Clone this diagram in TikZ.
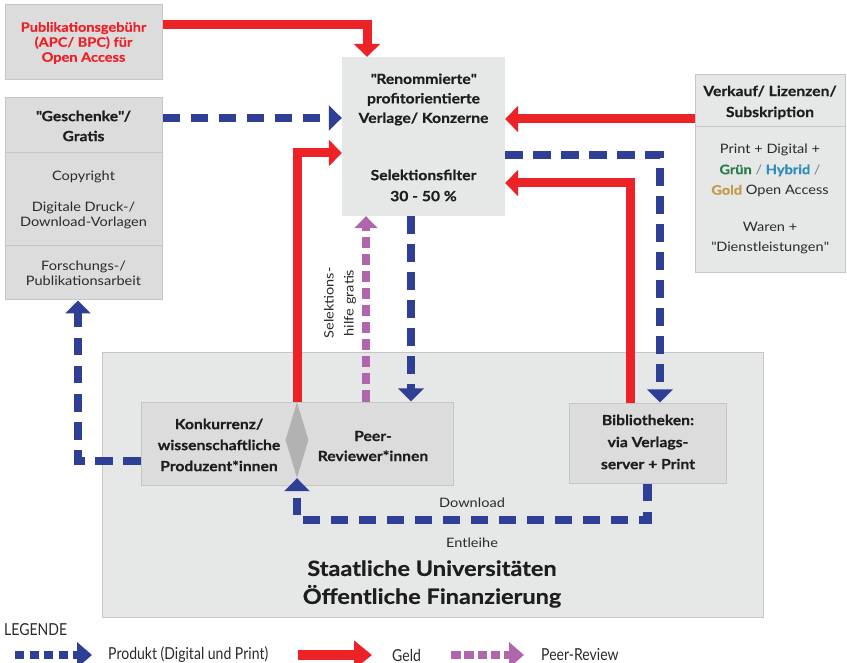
\documentclass[tikz,border=0pt]{standalone}
\usepackage{fontspec}
\setmainfont{Lato}[FakeStretch=1.12, BoldFeatures={FakeBold=0.5}]
\newfontfamily\narrowfont{Lato}[FakeStretch=0.85]
\usetikzlibrary{arrows.meta,shapes.geometric}

\definecolor{geldred}{HTML}{EC2227}
\definecolor{prodblue}{HTML}{2F3F96}
\definecolor{peerpurple}{HTML}{B165AC}
\definecolor{boxgray}{HTML}{DCDCDC}
\definecolor{palegray}{HTML}{E6E7E7}
\definecolor{edgegray}{HTML}{C6C6C6}
\definecolor{diagray}{HTML}{B2B2B2}
\definecolor{txt}{HTML}{1E1E1E}
\definecolor{bodytxt}{HTML}{2A2A2A}
\definecolor{gruen}{HTML}{2E7A4E}
\definecolor{hybrid}{HTML}{2F8DB8}
\definecolor{gold}{HTML}{C39A45}

\newcommand{\qq}{\textquotedbl}

\tikzset{
  box/.style={draw=edgegray, line width=1pt, fill=boxgray, inner sep=0pt},
  label/.style={text=txt, align=center, inner sep=0pt},
  head/.style={label, font=\bfseries\fontsize{14}{19.5}\selectfont},
  body/.style={label, text=bodytxt, font=\fontsize{13}{15}\selectfont},
  small/.style={label, text=bodytxt, font=\fontsize{13}{20}\selectfont},
  legtext/.style={label, text=bodytxt, anchor=west, font=\narrowfont\fontsize{16.5}{18}\selectfont},
  geld/.style={draw=geldred, line width=9pt,
    -{Triangle[width=26pt,length=13pt]}},
  prod/.style={draw=prodblue, line width=8.5pt, dash pattern=on 17.5pt off 10.5pt,
    -{Triangle[width=25pt,length=13pt]}},
  peer/.style={draw=peerpurple, line width=7.5pt, dash pattern=on 11pt off 6pt,
    -{Triangle[width=23pt,length=12pt]}},
}

\begin{document}
\begin{tikzpicture}[x=1pt,y=-1pt]
\useasboundingbox (0,0) rectangle (847,663);
\fill[white] (0,0) rectangle (847,663);

% universities (background block)
\node[box, fill=palegray, minimum width=661pt, minimum height=264pt] (uni) at (432.5,485) {};
\node[label, font=\bfseries\fontsize{21}{28}\selectfont] (unitext) at (432,584)
  {Staatliche Universitäten\\Öffentliche Finanzierung};

% producers / peer reviewers
\node[box, minimum width=312pt, minimum height=83pt] (konk) at (297,443.5) {};
\node[diamond, fill=diagray, inner sep=0pt, minimum width=23pt, minimum height=76pt] (split) at (297,440) {};
\node[head, font=\bfseries\fontsize{14}{21}\selectfont] (konktext) at (219,445)
  {Konkurrenz/\\wissenschaftliche\\Produzent*innen};
\node[head, font=\bfseries\fontsize{14}{20}\selectfont] (peertext) at (373,446)
  {Peer-\\Reviewer*innen};

% libraries
\node[box, minimum width=157pt, minimum height=80pt] (bib) at (647.5,443) {};
\node[head, font=\bfseries\fontsize{14}{22}\selectfont] (bibtext) at (648,442)
  {Bibliotheken:\\via Verlags-\\server + Print};

% publication fee
\node[box, minimum width=157pt, minimum height=75pt] (apc) at (83.5,42.5) {};
\node[head, text=geldred, font=\bfseries\fontsize{13}{15}\selectfont] (apctext) at (83.5,43)
  {Publikationsgebühr\\(APC/ BPC) für\\Open Access};

% gifts column
\node[box, minimum width=157pt, minimum height=55pt] (gifthead) at (83.5,125.5) {};
\node[box, minimum width=157pt, minimum height=93pt] (giftmid) at (83.5,199.5) {};
\node[box, minimum width=157pt, minimum height=54pt] (giftbot) at (83.5,273) {};
\node[head, font=\bfseries\fontsize{14}{20}\selectfont] (gifttext) at (83.5,126) {\qq Geschenke\qq/\\Gratis};
\node[body] (copytext) at (83.5,177) {Copyright};
\node[body] (drucktext) at (83.5,215.5) {Digitale Druck-/\\Download-Vorlagen};
\node[body] (forschtext) at (83.5,273.5) {Forschungs-/\\Publikationsarbeit};

% publishers
\node[fill=palegray, inner sep=0pt, minimum width=163pt, minimum height=159pt] (pub) at (423.5,136.5) {};
\node[head] (pubtext) at (423.5,99.5) {\qq Renommierte\qq\\profitorientierte\\Verlage/ Konzerne};
\node[head, font=\bfseries\fontsize{14}{21}\selectfont] (filtertext) at (423.5,185.5) {Selektionsfilter\\30 - 50 \%};

% sales column
\node[box, fill=palegray, minimum width=150pt, minimum height=52pt] (salehead) at (770,101) {};
\node[box, fill=palegray, minimum width=150pt, minimum height=146pt] (salebody) at (770,200) {};
\node[head, font=\bfseries\fontsize{14}{21}\selectfont] (saletext) at (770,102.5) {Verkauf/ Lizenzen/\\Subskription};
\node[body, font=\fontsize{13}{20.5}\selectfont] (oatext) at (770,170.5)
  {Print + Digital +\\\textbf{\color{gruen}Grün} {\color{gray}/} \textbf{\color{hybrid}Hybrid} {\color{gray}/}\\\textbf{\color{gold}Gold} Open Access};
\node[body, font=\fontsize{13}{20}\selectfont] (warentext) at (770,238) {Waren +\\\qq Dienstleistungen\qq};

% money flows
\draw[geld] ([yshift=17.5pt]apc.east) -| ([xshift=-56.5pt]pub.north);
\coordinate (salein) at ([yshift=17.5pt]pub.east);
\draw[geld] (salein -| salehead.west) -- (salein);
\coordinate (konkin) at ([yshift=-16.5pt]pub.west);
\draw[geld] (split.north) |- (konkin);
\coordinate (bibout) at ([xshift=-17.5pt]bib.north);
\coordinate (bibin) at ([yshift=-46.5pt]pub.east);
\draw[geld] (bibout) |- (bibin);

% product flows
\coordinate (giftout) at ([yshift=7.5pt]gifthead.east);
\draw[prod] (giftout) -- (giftout -| pub.west);
\coordinate (pubout) at ([yshift=-18.5pt]pub.east);
\coordinate (bibtop) at ([xshift=12.5pt]bib.north);
\draw[prod] (pubout) -| (bibtop);
\coordinate (pubdown) at ([xshift=-12.5pt]pub.south);
\draw[prod] (pubdown) -- (pubdown |- konk.north);
\coordinate (dlcorner) at (297,520);
\draw[prod] (bib.south) |- (dlcorner) -- (split.south);
\coordinate (konkout) at ([yshift=-17.5pt]konk.west);
\coordinate (giftin) at ([xshift=-5.5pt]giftbot.south);
\draw[prod] (konkout) -| (giftin);

% peer review
\coordinate (peerup) at ([xshift=-57.5pt]pub.south);
\draw[peer] (peerup |- konk.north) -- (peerup);
\node[small, rotate=90] (seltext) at (340,303) {Selektions-\\hilfe gratis};

\node[small] (dltext) at (472,503) {Download};
\node[small] (entltext) at (472,543) {Entleihe};

% legend
\node[legtext] (legtitle) at (4,630) {LEGENDE};
\coordinate (lpa) at (15,655);  \coordinate (lpb) at (92,655);
\coordinate (lga) at (298,655); \coordinate (lgb) at (372,655);
\coordinate (lra) at (451,655); \coordinate (lrb) at (524,655);
\draw[draw=prodblue, line width=8pt, dash pattern=on 9pt off 5.5pt,
  -{Triangle[width=25pt,length=15pt]}] (lpa) -- (lpb);
\draw[draw=geldred, line width=10pt, -{Triangle[width=28pt,length=18pt]}] (lga) -- (lgb);
\draw[draw=peerpurple, line width=8pt, dash pattern=on 9.5pt off 3.8pt,
  -{Triangle[width=25pt,length=15pt]}] (lra) -- (lrb);
\node[legtext] (legprod) at (108,655) {Produkt (Digital und Print)};
\node[legtext] (leggeld) at (392,655) {Geld};
\node[legtext] (legpeer) at (541,655) {Peer-Review};
\end{tikzpicture}
\end{document}
